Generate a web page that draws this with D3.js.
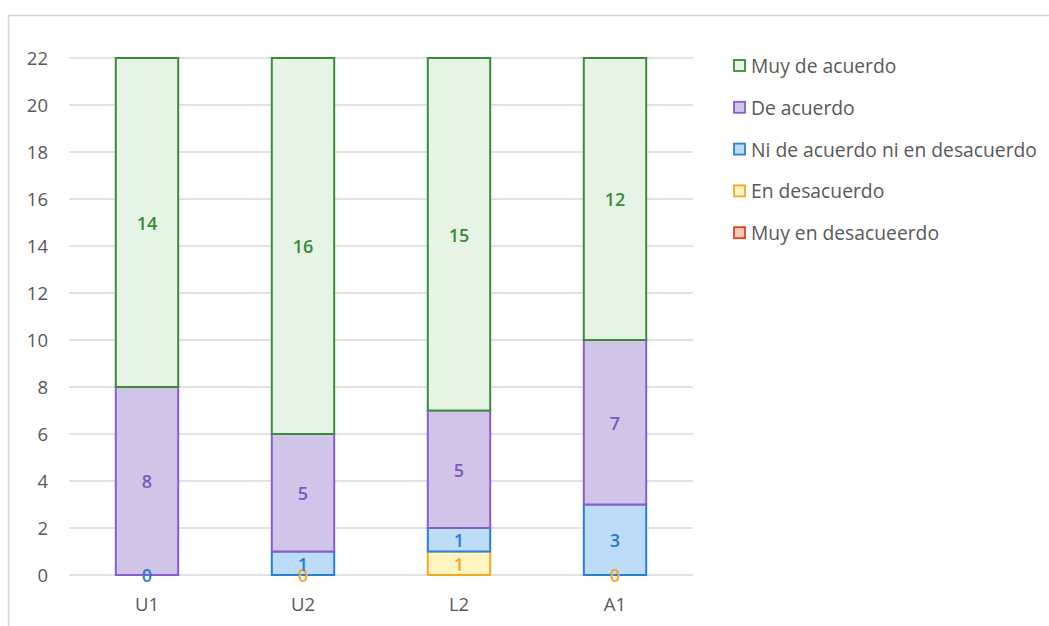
<!DOCTYPE html>
<html>
<head>
<meta charset="utf-8">
<script src="https://cdn.jsdelivr.net/npm/d3@7"></script>
<style>
  body { margin: 0; background: #fff; }
  svg { display: block; font-family: "Open Sans", "Noto Sans", sans-serif; }
</style>
</head>
<body>
<div id="chart-area"></div>
<script>
// categories and series (bottom to top in the stack)
var categories = ["U1", "U2", "L2", "A1"];
var seriesNames = ["Muy en desacueerdo", "En desacuerdo", "Ni de acuerdo ni en desacuerdo", "De acuerdo", "Muy de acuerdo"];
var muyEnDesacuerdo = [null, null, null, null];
var enDesacuerdo = [null, 0, 1, 0];
var niNi = [0, 1, 1, 3];
var deAcuerdo = [8, 5, 5, 7];
var muyDeAcuerdo = [14, 16, 15, 12];
var yTicks = [0, 2, 4, 6, 8, 10, 12, 14, 16, 18, 20, 22];

var strokes = ["#e2401c", "#f7a823", "#2a80d8", "#8a5ccf", "#3b8b3b"];
var fills = ["#f9c9b9", "#fff5c2", "#bcdcf7", "#d0c4e8", "#e6f4e6"];
var labelColors = ["#e2401c", "#f5a623", "#2a7ccf", "#7e57c2", "#3a8a3a"];

var values = [muyEnDesacuerdo, enDesacuerdo, niNi, deAcuerdo, muyDeAcuerdo];

var W = 1049, H = 626;
var svg = d3.select("#chart-area").append("svg")
    .attr("width", W).attr("height", H);

// chart border (top and left only visible in the crop)
svg.append("line").attr("x1", 8.5).attr("x2", W).attr("y1", 15.5).attr("y2", 15.5)
    .attr("stroke", "#d4d4d4").attr("stroke-width", 1.5);
svg.append("line").attr("x1", 8.5).attr("x2", 8.5).attr("y1", 15.5).attr("y2", H)
    .attr("stroke", "#d4d4d4").attr("stroke-width", 1.5);

var x = d3.scaleBand().domain(categories).range([69, 693]);
var y = d3.scaleLinear().domain([0, 22]).range([575, 58]);
var barW = x.bandwidth() * 0.4;

// gridlines
svg.append("g").selectAll("line").data(yTicks).enter().append("line")
    .attr("x1", 69).attr("x2", 693)
    .attr("y1", function(d) { return y(d); })
    .attr("y2", function(d) { return y(d); })
    .attr("stroke", "#d9d9d9").attr("stroke-width", 1.3);

// y axis tick labels
svg.append("g").selectAll("text").data(yTicks).enter().append("text")
    .attr("x", 48).attr("y", function(d) { return y(d); })
    .attr("dy", "0.36em")
    .attr("text-anchor", "end")
    .attr("fill", "#595959").style("font-size", "18.5px")
    .text(function(d) { return d; });

// x labels
svg.append("g").selectAll("text").data(categories).enter().append("text")
    .attr("x", function(d) { return x(d) + x.bandwidth() / 2; })
    .attr("y", 604).attr("dy", "0.36em")
    .attr("text-anchor", "middle")
    .attr("fill", "#595959").style("font-size", "18.5px")
    .text(function(d) { return d; });

// stack
var rows = categories.map(function(c, i) {
    var r = { cat: c };
    seriesNames.forEach(function(s, k) { r[s] = values[k][i] || 0; });
    return r;
});
var stacked = d3.stack().keys(seriesNames)(rows);

stacked.forEach(function(layer, k) {
    var g = svg.append("g");
    layer.forEach(function(seg, i) {
        var v = values[k][i];
        if (v === null) return;
        var cx = x(categories[i]) + x.bandwidth() / 2;
        if (v > 0) {
            g.append("rect")
                .attr("x", cx - barW / 2)
                .attr("y", y(seg[1]))
                .attr("width", barW)
                .attr("height", y(seg[0]) - y(seg[1]))
                .attr("fill", fills[k])
                .attr("stroke", strokes[k])
                .attr("stroke-width", 2);
        }
    });
});

// data labels drawn after all bars
stacked.forEach(function(layer, k) {
    layer.forEach(function(seg, i) {
        var v = values[k][i];
        if (v === null) return;
        var cx = x(categories[i]) + x.bandwidth() / 2;
        svg.append("text")
            .attr("x", cx)
            .attr("y", y((seg[0] + seg[1]) / 2) + 1)
            .attr("dy", "0.36em")
            .attr("text-anchor", "middle")
            .attr("fill", labelColors[k])
            .style("font-size", "18px")
            .style("font-weight", "600")
            .text(v);
    });
});

// legend (top series first)
var legendItems = seriesNames.map(function(s, k) { return k; }).reverse();
var legend = svg.append("g").selectAll("g").data(legendItems).enter().append("g")
    .attr("transform", function(d, i) { return "translate(734," + (66 + i * 41.8) + ")"; });
legend.append("rect")
    .attr("x", 0).attr("y", -6).attr("width", 11).attr("height", 11)
    .attr("fill", function(k) { return fills[k]; })
    .attr("stroke", function(k) { return strokes[k]; })
    .attr("stroke-width", 1.8);
legend.append("text")
    .attr("x", 17).attr("y", 0).attr("dy", "0.36em")
    .attr("fill", "#595959").style("font-size", "19.3px")
    .text(function(k) { return seriesNames[k]; });
</script>
</body>
</html>
